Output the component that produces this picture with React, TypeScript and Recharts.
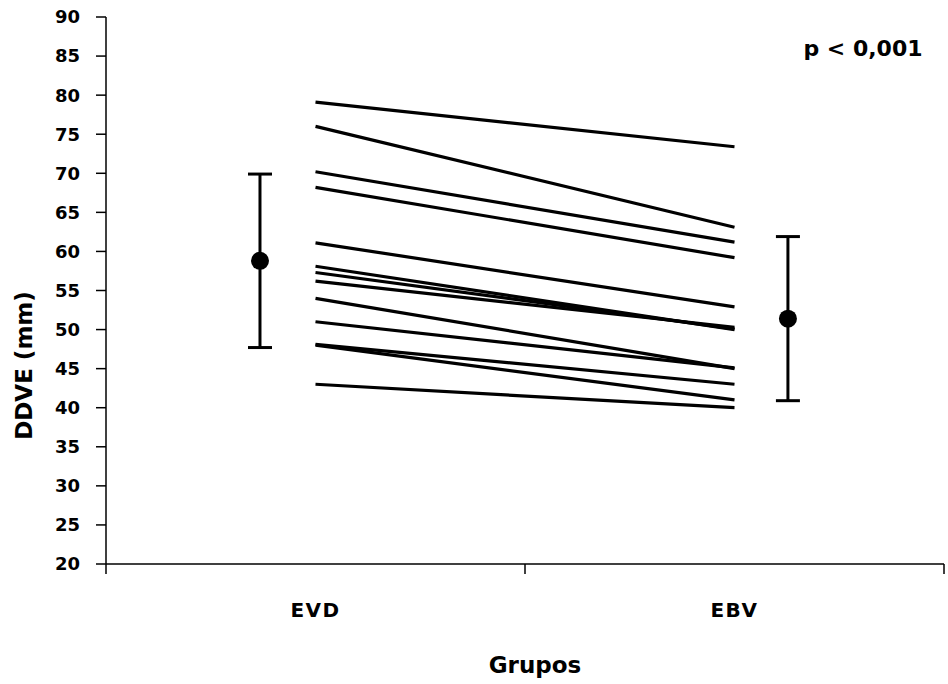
import {
  ComposedChart,
  Line,
  Scatter,
  ErrorBar,
  XAxis,
  YAxis,
  Customized,
} from "recharts";

const groups = ["EVD", "EBV"];
const groupX = [1, 3];

// DDVE (mm) per patient, before (EVD) and after (EBV)
const evdValues = [79.1, 76.0, 70.2, 68.2, 61.1, 58.1, 57.3, 56.2, 54.0, 51.0, 48.1, 48.0, 43.0];
const ebvValues = [73.4, 63.1, 61.2, 59.2, 52.9, 50.0, 50.1, 50.3, 45.0, 45.1, 43.0, 41.0, 40.0];

// mean +/- sd markers beside each group
const summaryX = [0.735, 3.255];
const summaryMean = [58.8, 51.4];
const summarySd = [11.1, 10.5];

const yTicks = [20, 25, 30, 35, 40, 45, 50, 55, 60, 65, 70, 75, 80, 85, 90];
const xTicks = [0, 1, 2, 3, 4];

const font = "'DejaVu Sans', sans-serif";

const patients = evdValues.map((v, i) => [
  { x: groupX[0], y: v },
  { x: groupX[1], y: ebvValues[i] },
]);

const summary = summaryX.map((x, i) => ({
  x,
  y: summaryMean[i],
  err: summarySd[i],
}));

const XTick = (props: any) => {
  const { x, y, payload } = props;
  const idx = groupX.indexOf(payload.value);
  if (idx < 0) {
    return <line x1={x} y1={y} x2={x} y2={y + 10} stroke="#000" strokeWidth={1.5} />;
  }
  return (
    <text
      x={x}
      y={y + 53}
      textAnchor="middle"
      fontFamily={font}
      fontWeight="bold"
      fontSize={20}
      letterSpacing={1.5}
      fill="#000"
    >
      {groups[idx]}
    </text>
  );
};

const PValue = () => (
  <text x={863} y={56} textAnchor="middle" fontFamily={font} fontWeight="bold" fontSize={22} fill="#000">
    p &lt; 0,001
  </text>
);

export default function App() {
  return (
    <div style={{ position: "absolute", left: 0, top: 0, background: "#fff" }}>
      <ComposedChart
        width={948}
        height={684}
        margin={{ top: 17, right: 4, bottom: 0, left: 0 }}
      >
        <XAxis
          type="number"
          dataKey="x"
          domain={[0, 4]}
          ticks={xTicks}
          interval={0}
          tickLine={false}
          tickSize={0}
          tickMargin={0}
          tick={<XTick />}
          height={120}
          axisLine={{ stroke: "#000", strokeWidth: 1.5 }}
          allowDuplicatedCategory={false}
          label={{
            value: "Grupos",
            position: "center",
            dx: 10,
            dy: 41,
            style: { fontFamily: font, fontWeight: "bold", fontSize: 23, fill: "#000" },
          }}
        />
        <YAxis
          type="number"
          domain={[20, 90]}
          ticks={yTicks}
          interval={0}
          width={106}
          tickSize={10}
          tickMargin={16}
          tick={{ fontFamily: font, fontWeight: "bold", fontSize: 18, fill: "#000" }}
          tickLine={{ stroke: "#000", strokeWidth: 1.5 }}
          axisLine={{ stroke: "#000", strokeWidth: 1.5 }}
          label={{
            value: "DDVE (mm)",
            angle: -90,
            position: "center",
            dx: -29,
            dy: 75,
            style: { fontFamily: font, fontWeight: "bold", fontSize: 23, fill: "#000" },
          }}
        />
        {patients.map((d, i) => (
          <Line
            key={i}
            data={d}
            dataKey="y"
            type="linear"
            stroke="#000"
            strokeWidth={3.2}
            dot={false}
            activeDot={false}
            isAnimationActive={false}
          />
        ))}
        <Scatter
          data={summary}
          dataKey="y"
          fill="#000"
          isAnimationActive={false}
          shape={(p: any) => <circle cx={p.cx} cy={p.cy} r={9} fill="#000" />}
        >
          <ErrorBar
            dataKey="err"
            direction="y"
            width={12}
            stroke="#000"
            strokeWidth={3}
            isAnimationActive={false}
          />
        </Scatter>
        <Customized component={PValue} />
      </ComposedChart>
    </div>
  );
}
